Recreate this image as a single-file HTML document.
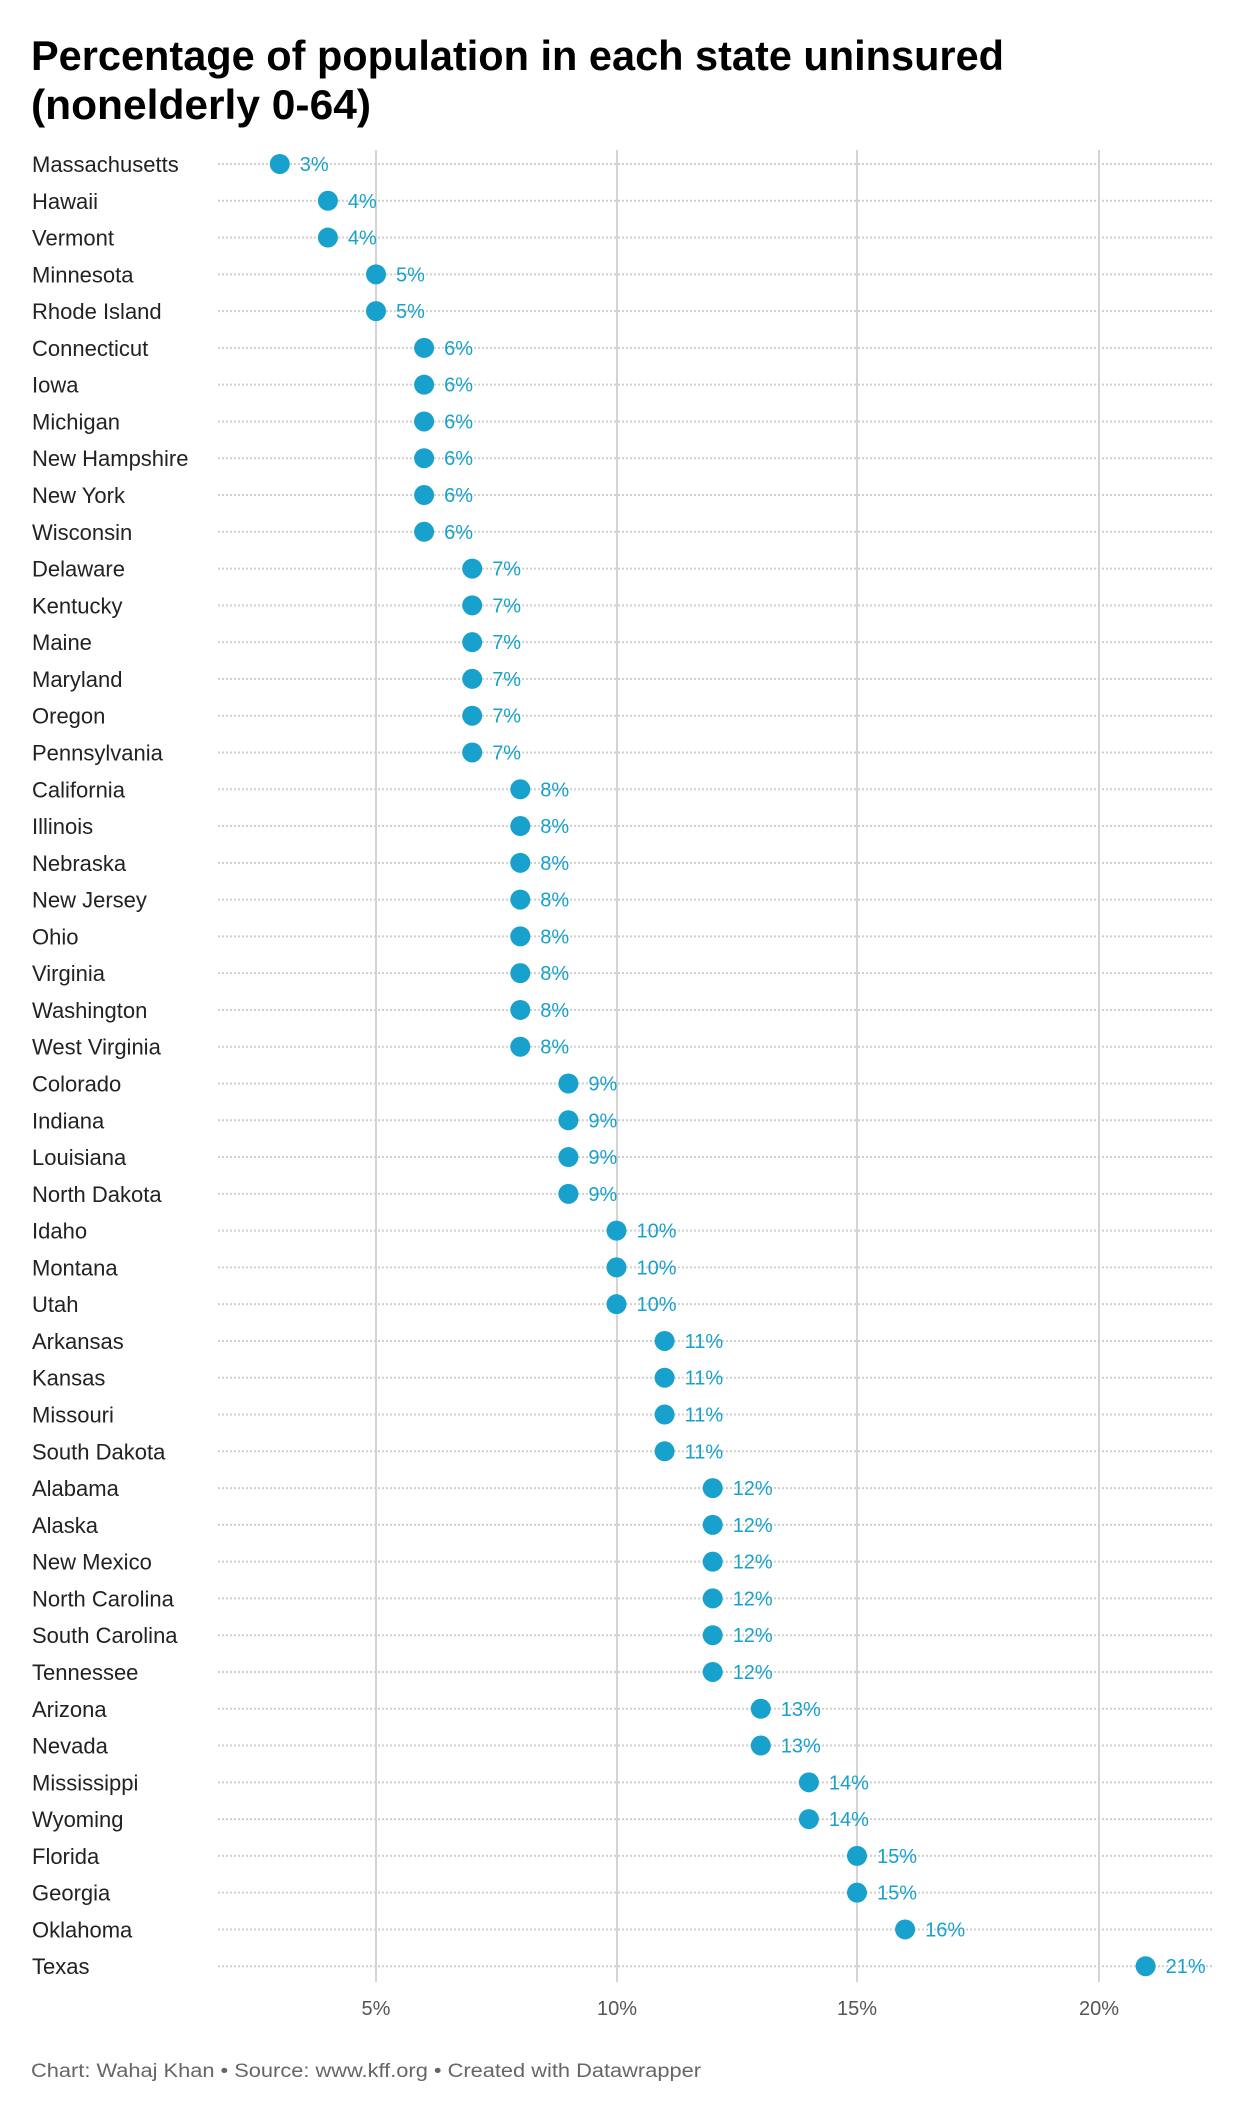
<!DOCTYPE html>
<html><head><meta charset="utf-8"><style>
html,body{margin:0;padding:0;background:#fff;}
svg{display:block;font-family:"Liberation Sans",Arial,sans-serif;}
</style></head><body>
<svg width="1260" height="2114" viewBox="0 0 1260 2114" xmlns="http://www.w3.org/2000/svg">
<rect width="1260" height="2114" fill="#fff"/>
<text x="31" y="70" font-size="42" font-weight="bold" fill="#000" textLength="973" lengthAdjust="spacingAndGlyphs">Percentage of population in each state uninsured</text>
<text x="31" y="119" font-size="42" font-weight="bold" fill="#000" textLength="340" lengthAdjust="spacingAndGlyphs">(nonelderly 0-64)</text>
<g stroke="#d4d4d4" stroke-width="2">
<line x1="376" y1="150" x2="376" y2="1982"/>
<line x1="617" y1="150" x2="617" y2="1982"/>
<line x1="857" y1="150" x2="857" y2="1982"/>
<line x1="1099" y1="150" x2="1099" y2="1982"/>
</g>
<g id="rows"></g>
<g font-size="20" fill="#555" text-anchor="middle">
<text x="376" y="2015">5%</text><text x="617" y="2015">10%</text><text x="857" y="2015">15%</text><text x="1099" y="2015">20%</text>
</g>
<text x="31" y="2077" font-size="19" fill="#666" textLength="670" lengthAdjust="spacingAndGlyphs">Chart: Wahaj Khan • Source: www.kff.org • Created with Datawrapper</text>
</svg>
<script>
var d=[["Massachusetts",3],["Hawaii",4],["Vermont",4],["Minnesota",5],["Rhode Island",5],["Connecticut",6],["Iowa",6],["Michigan",6],["New Hampshire",6],["New York",6],["Wisconsin",6],["Delaware",7],["Kentucky",7],["Maine",7],["Maryland",7],["Oregon",7],["Pennsylvania",7],["California",8],["Illinois",8],["Nebraska",8],["New Jersey",8],["Ohio",8],["Virginia",8],["Washington",8],["West Virginia",8],["Colorado",9],["Indiana",9],["Louisiana",9],["North Dakota",9],["Idaho",10],["Montana",10],["Utah",10],["Arkansas",11],["Kansas",11],["Missouri",11],["South Dakota",11],["Alabama",12],["Alaska",12],["New Mexico",12],["North Carolina",12],["South Carolina",12],["Tennessee",12],["Arizona",13],["Nevada",13],["Mississippi",14],["Wyoming",14],["Florida",15],["Georgia",15],["Oklahoma",16],["Texas",21]];
var s="";
for(var i=0;i<d.length;i++){
 var y=164+i*36.78, x=135.5+d[i][1]*48.1;
 s+='<line x1="218" y1="'+y+'" x2="1212" y2="'+y+'" stroke="#cfcfcf" stroke-width="2" stroke-dasharray="2,2"/>';
 s+='<text x="32" y="'+(y+8)+'" font-size="22" fill="#222">'+d[i][0]+'</text>';
 s+='<circle cx="'+x+'" cy="'+y+'" r="10" fill="#18a1cd"/>';
 s+='<text x="'+(x+20)+'" y="'+(y+7)+'" font-size="20" fill="#18a1cd">'+d[i][1]+'%</text>';
}
document.getElementById("rows").innerHTML=s;
</script>
</body></html>
